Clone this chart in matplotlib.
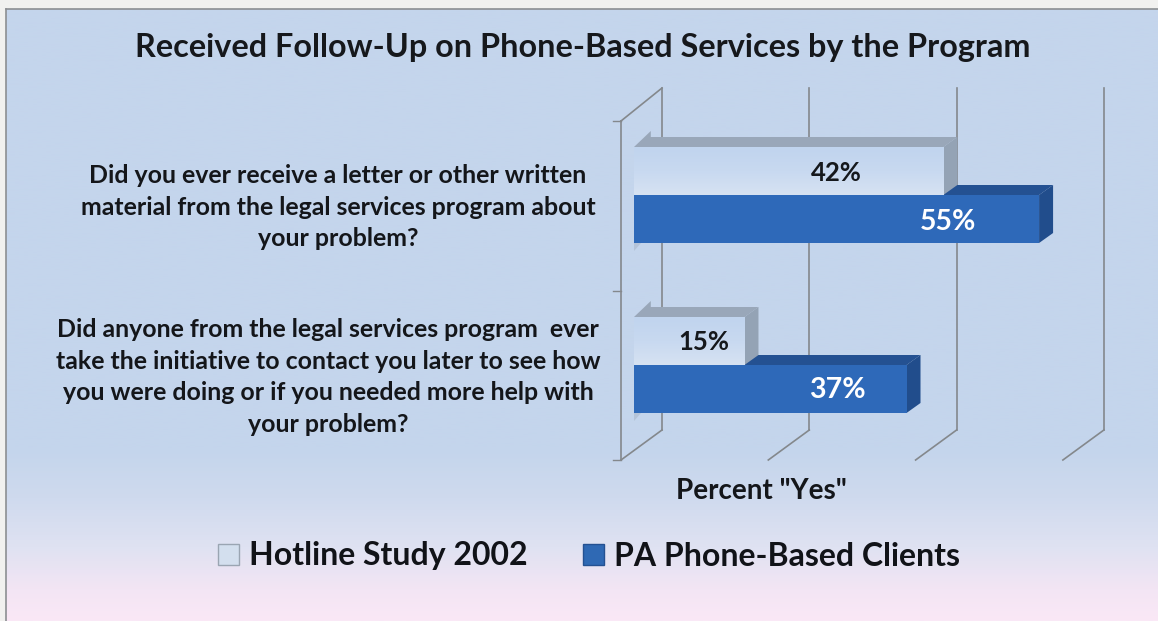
import numpy as np
import matplotlib
matplotlib.use("Agg")
import matplotlib.pyplot as plt
from matplotlib.colors import LinearSegmentedColormap
from matplotlib.patches import Patch, Polygon

plt.rcParams['font.family'] = ['Lato', 'DejaVu Sans']

# -------------------------
# Data
# -------------------------
title = "Received Follow-Up on Phone-Based Services by the Program"
questions = [
    "Did you ever receive a letter or other written\nmaterial from the legal services program about\nyour problem?",
    "Did anyone from the legal services program  ever\ntake the initiative to contact you later to see how\nyou were doing or if you needed more help with\nyour problem?",
]
series_names = ["Hotline Study 2002", "PA Phone-Based Clients"]
hotline = [42, 15]
pa_clients = [55, 37]
grid_values = [0, 20, 40, 60]
x_label = 'Percent "Yes"'

# -------------------------
# Layout (pixels of the 1158x621 picture)
# -------------------------
W, H = 1158, 621
PX_PER_PCT = 7.365
X0_PX = 634      # zero of the bars' front face
Y0_PX = 195      # seam between the two bars of first group
GROUP_PX = 170


def px_x(p):
    return (p - X0_PX) / PX_PER_PCT


def px_y(p):
    return (p - Y0_PX) / GROUP_PX


fig = plt.figure(figsize=(W / 100, H / 100), dpi=100, facecolor="#f1f1ef")

# -------------------------
# Panel background
# -------------------------
bg = fig.add_axes([6 / W, 0, 1 - 6 / W, 1 - 9 / H])
cmap = LinearSegmentedColormap.from_list("panel", [
    (0.0, "#c4d5ec"), (0.72, "#c4d5ec"), (0.80, "#cfdaee"),
    (0.88, "#dfe2f2"), (0.95, "#f3e5f4"), (1.0, "#fae8f6"),
])
bg.imshow(np.linspace(0, 1, 256).reshape(-1, 1), aspect="auto", cmap=cmap)
bg.set_xticks([])
bg.set_yticks([])
for side in ["right", "bottom"]:
    bg.spines[side].set_visible(False)
for side in ["left", "top"]:
    bg.spines[side].set_color("#8c8f92")
    bg.spines[side].set_linewidth(1.2)

# -------------------------
# Chart axes, covers whole figure
# -------------------------
ax = fig.add_axes([0, 0, 1, 1])
ax.patch.set_alpha(0)
ax.set_xlim(px_x(0), px_x(W))
ax.set_ylim(px_y(H), px_y(0))
ax.axis("off")

GRID = "#84888c"
back_dx = (662 - X0_PX) / PX_PER_PCT
floor_dx = (621 - X0_PX) / PX_PER_PCT
top_back, bot_back = px_y(88), px_y(430)
top_front, mid_front, bot_front = px_y(121), px_y(291), px_y(460)

# gridlines on back wall and their floor part
for v in grid_values:
    ax.plot([v + back_dx] * 2, [top_back, bot_back], color=GRID, lw=1.2, zorder=1)
    ax.plot([v + floor_dx, v + back_dx], [bot_front, bot_back], color=GRID, lw=1.2, zorder=1)

# side wall
ax.plot([floor_dx, floor_dx], [top_front, bot_front], color=GRID, lw=1.2, zorder=1)
ax.plot([floor_dx, back_dx], [top_front, top_back], color=GRID, lw=1.2, zorder=1)
for yt in [top_front, mid_front, bot_front]:
    ax.plot([px_x(613), floor_dx], [yt, yt], color=GRID, lw=1.0, zorder=1)

# -------------------------
# 3D bars
# -------------------------
BAR_H = 48 / GROUP_PX
DX = 14 / PX_PER_PCT
DY = -10 / GROUP_PX


def draw_bar(value, y_top, front, top_col, side_col, z):
    y_bot = y_top + BAR_H
    ax.add_patch(Polygon([(0, y_top), (DX * 1.2, y_top + DY * 1.6), (DX * 1.2, y_top + DY),
                          (value + DX, y_top + DY), (value, y_top)],
                         fc=top_col, ec="none", zorder=z))
    ax.add_patch(Polygon([(value, y_top), (value + DX, y_top + DY),
                          (value + DX, y_bot + DY), (value, y_bot)],
                         fc=side_col, ec="none", zorder=z))
    return ax.barh(y_top + BAR_H / 2, value, height=BAR_H, color=front, zorder=z + 1)[0]


groups = np.arange(len(questions))
grad = LinearSegmentedColormap.from_list("lt", ["#c0d4ee", "#c8d9f0", "#d6e2f2"])
for i in groups:
    # blue goes first, light bar sits in front of its top face
    draw_bar(pa_clients[i], groups[i], "#2e69b9", "#245192", "#214d8c", 3)
    # small stub of the base under the blue bar
    y_end = groups[i] + BAR_H
    ax.add_patch(Polygon([(0, y_end), (DX * 0.5, y_end), (0, y_end + 0.8 * -DY)],
                         fc="#b4c3d8", ec="none", zorder=2))
    bar = draw_bar(hotline[i], groups[i] - BAR_H, "#c8d9ef", "#99a7b9", "#94a3b5", 5)
    # soft vertical shading on the light bar
    im = ax.imshow(np.linspace(0, 1, 64).reshape(-1, 1), cmap=grad, aspect="auto",
                   extent=[0, hotline[i], groups[i], groups[i] - BAR_H], zorder=7)
    im.set_clip_path(bar)
ax.set_xlim(px_x(0), px_x(W))
ax.set_ylim(px_y(H), px_y(0))

# value labels
hotline_label_x = [px_x(836), px_x(704)]
hotline_label_y = [px_y(173), px_y(342)]
pa_label_x = [px_x(948), px_x(837)]
pa_label_y = [px_y(222), px_y(390)]
for i in groups:
    ax.text(hotline_label_x[i], hotline_label_y[i], f"{hotline[i]}%", ha="center", va="center",
            fontsize=18.5, fontweight="bold", color="#15181c", zorder=9)
    ax.text(pa_label_x[i], pa_label_y[i], f"{pa_clients[i]}%", ha="center", va="center",
            fontsize=20.5, fontweight="bold", color="white", zorder=9)

# -------------------------
# Text
# -------------------------
ax.text(px_x(583), px_y(48), title, ha="center", va="center", fontsize=23.3,
        fontweight="bold", color="#16181c")
question_x = [338, 328]
question_y = [207, 377]
for i, q in enumerate(questions):
    ax.text(px_x(question_x[i]), px_y(question_y[i]), q, ha="center", va="center",
            fontsize=17.9, fontweight="bold", color="#14161a", linespacing=1.44)
ax.text(px_x(761), px_y(491), x_label, ha="center", va="center", fontsize=20,
        fontweight="bold", color="#14161a")

handles = [Patch(fc="#d3dfee", ec="#9aa5b2", lw=1.0), Patch(fc="#2f69b4", ec="#245192", lw=1.0)]
leg = ax.legend(handles, series_names, ncols=2, frameon=False, loc="center",
                bbox_to_anchor=(589 / W, 1 - 556 / H), fontsize=23, handlelength=0.66,
                handleheight=0.66, handletextpad=0.3, columnspacing=1.75, labelspacing=0)
for t in leg.get_texts():
    t.set_fontweight("bold")
    t.set_color("#111318")

fig.savefig("out.png", dpi=100, facecolor=fig.get_facecolor())
